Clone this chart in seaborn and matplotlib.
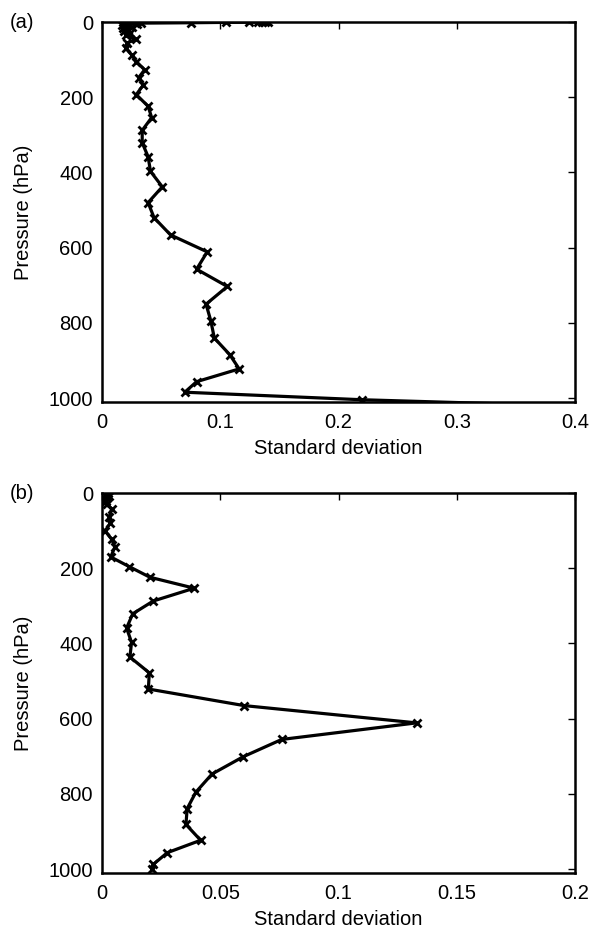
import matplotlib
matplotlib.use("Agg")
import matplotlib.pyplot as plt
import seaborn as sns
import pandas as pd

# Panel (a)
pres_a = [0.1, 0.2, 0.3, 0.5, 0.7, 1, 2, 3, 4, 5, 7, 10, 13, 16, 20, 25, 30, 35,
          46, 56, 70, 87, 105, 127, 148, 167, 193, 224, 254, 288, 321, 358, 397,
          438, 480, 520, 566, 611, 657, 703, 750, 794, 840, 884, 922, 956, 984,
          1004, 1030]
std_a = [0.140, 0.138, 0.135, 0.132, 0.124, 0.105, 0.075, 0.033, 0.030, 0.022,
         0.017, 0.020, 0.025, 0.018, 0.022, 0.019, 0.024, 0.020,
         0.029, 0.021, 0.020, 0.025, 0.029, 0.036, 0.031, 0.035, 0.029, 0.039,
         0.042, 0.034, 0.034, 0.039, 0.041, 0.051, 0.039, 0.044, 0.058, 0.089,
         0.080, 0.106, 0.088, 0.092, 0.095, 0.108, 0.116, 0.080, 0.070,
         0.220, 0.500]

# Panel (b)
pres_b = [0.5, 1, 2, 3, 5, 7, 10, 15, 20, 25, 30, 43, 63, 81, 101, 123, 143, 170,
          196, 224, 253, 287, 321, 359, 397, 436, 478, 521, 565, 611, 655, 701,
          747, 795, 839, 881, 923, 956, 987, 1000]
std_b = [0.002, 0.0025, 0.002, 0.0015, 0.002, 0.003, 0.002, 0.001, 0.0015, 0.001,
         0.002, 0.0041, 0.0031, 0.0034, 0.0013, 0.0041, 0.0055, 0.0037,
         0.0116, 0.0203, 0.039, 0.0217, 0.013, 0.0104, 0.0125, 0.0118, 0.020,
         0.0196, 0.060, 0.133, 0.076, 0.0597, 0.0465, 0.0397, 0.036, 0.0355,
         0.0417, 0.0276, 0.0217, 0.021]

xticks_a = [0, 0.1, 0.2, 0.3, 0.4]
xticklabels_a = ["0", "0.1", "0.2", "0.3", "0.4"]
xticks_b = [0, 0.05, 0.1, 0.15, 0.2]
xticklabels_b = ["0", "0.05", "0.1", "0.15", "0.2"]
yticks = [0, 200, 400, 600, 800, 1000]

sns.set_theme(style="white")
plt.rcParams['font.family'] = ['Liberation Sans', 'DejaVu Sans']

FS = 14.5
fig = plt.figure(figsize=(5.91, 9.30), dpi=100)
W, H = 591, 930
ax_a = fig.add_axes([102 / W, 1 - 402 / H, 473 / W, 380 / H])
ax_b = fig.add_axes([102 / W, 1 - 873 / H, 473 / W, 380 / H])

panels = [
    (ax_a, pres_a, std_a, xticks_a, xticklabels_a, (0, 0.4), "(a)"),
    (ax_b, pres_b, std_b, xticks_b, xticklabels_b, (0, 0.2), "(b)"),
]

for ax, p, s, xt, xtl, xl, lab in panels:
    df = pd.DataFrame({"std": s, "pres": p})
    sns.lineplot(data=df, x="std", y="pres", sort=False, estimator=None,
                 color="black", linewidth=2.3, marker="x", markersize=6,
                 markeredgewidth=2, markeredgecolor="black", ax=ax)
    ax.set_xlim(*xl)
    ax.set_ylim(1010, 0)
    ax.set_xticks(xt)
    ax.set_xticklabels(xtl)
    ax.set_yticks(yticks)
    ax.set_yticklabels([str(v) for v in yticks])
    ax.tick_params(direction="in", length=5, width=1, top=True, right=True,
                   labelsize=FS, colors="black")
    ax.tick_params(axis="x", pad=8)
    ax.tick_params(axis="y", pad=6.5)
    for sp in ax.spines.values():
        sp.set_visible(True)
        sp.set_color("black")
        sp.set_linewidth(1.8)
    ax.set_xlabel("Standard deviation", fontsize=FS, color="black", labelpad=5)
    ax.set_ylabel("Pressure (hPa)", fontsize=FS, color="black", labelpad=11)
    ax.grid(False)
    ax.text(-0.195, 1.0, lab, transform=ax.transAxes, fontsize=FS,
            ha="left", va="center", color="black")

fig.savefig("out.png", dpi=100)
